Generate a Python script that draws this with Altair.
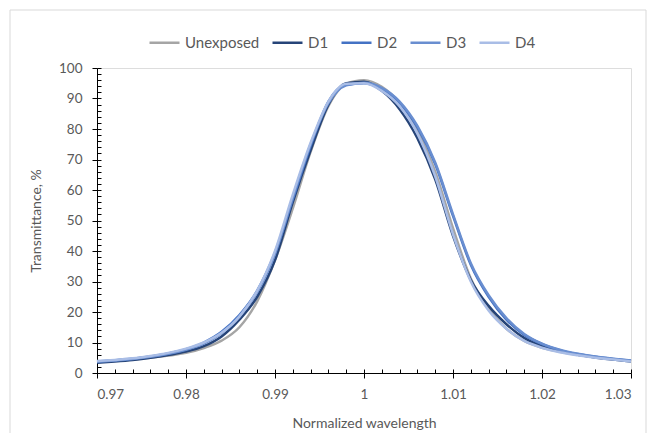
import altair as alt
import pandas as pd

# ---- data ----
wavelength = [0.970, 0.972, 0.974, 0.976, 0.978, 0.980, 0.982, 0.984, 0.986, 0.988,
              0.990, 0.992, 0.994, 0.996, 0.998, 1.000, 1.002, 1.004, 1.006, 1.008,
              1.010, 1.012, 1.014, 1.016, 1.018, 1.020, 1.022, 1.024, 1.026, 1.028, 1.030]

unexposed = [3.6, 4.0, 4.4, 5.0, 5.7, 6.6, 8.2, 10.6, 15.0, 23.5,
             37.0, 54.0, 72.5, 87.5, 94.8, 96.0, 93.8, 88.5, 79.5, 66.0,
             47.5, 31.0, 21.0, 14.5, 10.5, 8.3, 7.0, 6.0, 5.2, 4.5, 3.9]

d1 = [3.4, 3.8, 4.3, 5.0, 5.9, 7.0, 8.8, 12.0, 17.5, 25.0,
      37.0, 56.0, 73.0, 88.0, 95.0, 95.5, 92.5, 86.5, 77.0, 63.5,
      45.0, 30.5, 22.0, 16.0, 11.5, 8.8, 7.2, 6.0, 5.1, 4.4, 3.8]

d2 = [3.8, 4.2, 4.7, 5.4, 6.4, 7.8, 10.0, 13.5, 19.0, 27.0,
      39.5, 57.0, 74.5, 89.0, 94.5, 95.0, 93.0, 88.5, 80.5, 68.5,
      51.5, 35.5, 25.0, 17.5, 12.5, 9.5, 7.5, 6.2, 5.3, 4.6, 4.0]

d3 = [3.7, 4.1, 4.6, 5.3, 6.3, 7.6, 9.6, 13.0, 18.5, 26.5,
      39.0, 57.5, 75.0, 88.5, 94.3, 95.2, 93.5, 89.0, 81.0, 69.0,
      52.0, 36.0, 25.5, 18.0, 12.8, 9.6, 7.6, 6.3, 5.4, 4.7, 4.1]

d4 = [3.9, 4.3, 4.8, 5.6, 6.6, 8.0, 10.0, 13.2, 18.5, 27.0,
      40.0, 58.5, 75.5, 89.0, 94.8, 95.0, 92.5, 87.5, 78.5, 64.5,
      45.5, 30.0, 20.5, 14.5, 10.5, 8.3, 6.8, 5.8, 5.0, 4.4, 3.8]

series_names = ["Unexposed", "D1", "D2", "D3", "D4"]
series_values = [unexposed, d1, d2, d3, d4]
series_colors = ["#A5A5A5", "#264478", "#4472C4", "#698ED0", "#A9BDE6"]

x_major = [0.97, 0.98, 0.99, 1.0, 1.01, 1.02, 1.03]
x_minor = [round(0.97 + 0.002 * i, 3) for i in range(31)]
y_major = [0, 10, 20, 30, 40, 50, 60, 70, 80, 90, 100]
y_minor = [2 * i for i in range(51)]

rows = []
for name, vals in zip(series_names, series_values):
    for i, (xv, yv) in enumerate(zip(wavelength, vals)):
        rows.append({"wl": xv, "T": yv, "series": name, "order": i})
df = pd.DataFrame(rows)

FONT = "Lato"
TXT = "#595959"
W, H = 534, 305

xscale = alt.Scale(domain=[0.97, 1.03], nice=False, zero=False)
yscale = alt.Scale(domain=[0, 100], nice=False, zero=True)

base = alt.Chart(df)

# minor / inner ticks (transparent line, axis only)
minor = base.mark_line(opacity=0).encode(
    x=alt.X("wl:Q", scale=xscale, axis=alt.Axis(
        orient="bottom", values=x_minor, offset=-4, tickSize=4,
        tickColor="black", tickWidth=1,
        domain=False, labels=False, title=None, grid=False)),
    y=alt.Y("T:Q", scale=yscale, axis=alt.Axis(
        orient="left", values=y_minor, offset=-4, tickSize=4,
        tickColor="black", tickWidth=1,
        domain=False, labels=False, title=None, grid=False)),
    detail="series:N",
)

lines = base.mark_line(strokeWidth=2.5, interpolate="monotone").encode(
    x=alt.X("wl:Q", scale=xscale, axis=alt.Axis(
        orient="bottom", values=x_major, format=".2~f", tickSize=5,
        tickColor="black", domainColor="black", grid=False, labelPadding=9,
        labelFontSize=13.5, labelColor=TXT, labelFont=FONT,
        title="Normalized wavelength", titleFont=FONT, titleFontSize=14,
        titleFontWeight="normal", titleColor=TXT, titlePadding=16)),
    y=alt.Y("T:Q", scale=yscale, axis=alt.Axis(
        orient="left", values=y_major, tickSize=5, tickColor="black",
        domainColor="black", grid=False, labelPadding=10, labelFontSize=13.5,
        labelColor=TXT, labelFont=FONT, title="Transmittance, %",
        titleFont=FONT, titleFontSize=14, titleFontWeight="normal",
        titleColor=TXT, titlePadding=15)),
    color=alt.Color("series:N",
                    scale=alt.Scale(domain=series_names, range=series_colors),
                    sort=series_names,
                    legend=alt.Legend(
                        title=None, orient="none", direction="horizontal",
                        legendX=51, legendY=-42,
                        symbolType="stroke", symbolSize=900,
                        symbolStrokeWidth=2.5, labelFont=FONT,
                        labelFontSize=15, labelColor=TXT, labelOffset=4,
                        columnPadding=7)),
    order=alt.Order("order:Q"),
)

frame = alt.Chart(alt.Data(values=[{"a": 1}])).mark_rect(
    fill="transparent", stroke="#D9D9D9", strokeWidth=1
).encode(
    x=alt.value(-87), x2=alt.value(549), y=alt.value(-58), y2=alt.value(400)
)

chart = alt.layer(frame, minor, lines).resolve_axis(
    x="independent", y="independent"
).properties(
    width=W, height=H,
    autosize=alt.AutoSizeParams(type="none"),
    padding={"left": 89, "top": 60, "right": 18, "bottom": 60},
).configure_view(
    stroke="#7F7F7F", strokeWidth=1
).configure(background="white")

chart.save("out.html", embed_options={"renderer": "svg", "actions": False})
